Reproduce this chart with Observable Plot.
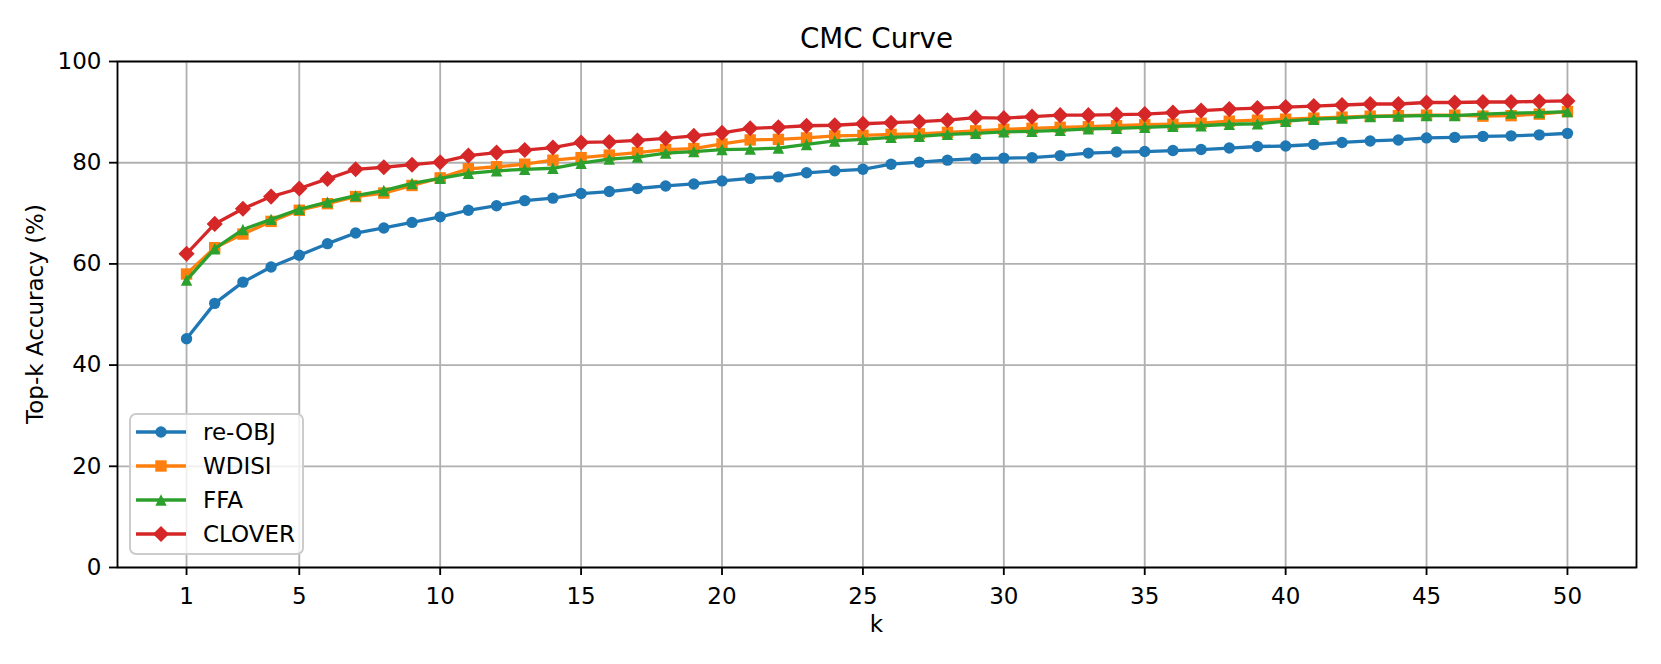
<!DOCTYPE html>
<html>
<head>
<meta charset="utf-8">
<script src="https://cdn.jsdelivr.net/npm/d3@7"></script>
<script src="https://cdn.jsdelivr.net/npm/@observablehq/plot@0.6"></script>
<style>
  html, body { margin: 0; padding: 0; background: #fff; }
  #chart { width: 1661px; height: 664px; }
  svg { font-family: "DejaVu Sans", sans-serif; }
</style>
</head>
<body>
<div id="chart"></div>
<script>
// ---- data ----
const k = [1,2,3,4,5,6,7,8,9,10,11,12,13,14,15,16,17,18,19,20,21,22,23,24,25,
           26,27,28,29,30,31,32,33,34,35,36,37,38,39,40,41,42,43,44,45,46,47,48,49,50];
const reOBJ = [45.2,52.2,56.4,59.4,61.7,64.0,66.1,67.1,68.2,69.3,70.6,71.5,72.5,73.0,73.9,74.3,74.9,75.4,75.8,76.4,
               76.9,77.2,78.0,78.4,78.7,79.7,80.1,80.5,80.8,80.9,81.0,81.4,81.9,82.1,82.2,82.4,82.6,82.9,83.2,83.3,
               83.6,84.0,84.3,84.5,84.9,85.0,85.2,85.3,85.5,85.8];
const WDISI = [58.0,63.2,65.9,68.4,70.6,71.9,73.3,74.0,75.5,77.0,78.8,79.2,79.7,80.5,81.0,81.5,82.0,82.6,82.8,83.7,
               84.5,84.6,84.9,85.3,85.4,85.6,85.7,86.0,86.3,86.6,86.8,87.0,87.1,87.3,87.5,87.6,87.8,88.2,88.4,88.6,
               88.8,89.0,89.2,89.3,89.4,89.4,89.2,89.3,89.6,90.1];
const FFA = [56.8,63.0,66.8,68.8,70.8,72.2,73.5,74.5,75.9,76.9,77.9,78.4,78.7,78.9,79.9,80.7,81.1,81.9,82.2,82.6,
             82.7,82.9,83.6,84.3,84.6,85.0,85.2,85.6,85.8,86.1,86.2,86.4,86.7,86.8,87.0,87.2,87.3,87.6,87.7,88.2,
             88.6,88.8,89.1,89.2,89.3,89.3,89.6,89.8,89.9,90.1];
const CLOVER = [62.0,67.9,70.9,73.3,74.9,76.8,78.7,79.1,79.6,80.1,81.4,82.0,82.5,83.0,84.0,84.1,84.4,84.8,85.3,85.9,
                86.8,87.0,87.3,87.4,87.7,87.9,88.1,88.4,88.9,88.8,89.1,89.4,89.4,89.5,89.6,89.9,90.3,90.6,90.8,91.0,
                91.2,91.4,91.6,91.6,91.9,91.9,92.0,92.0,92.1,92.2];
const seriesNames = ["re-OBJ", "WDISI", "FFA", "CLOVER"];
const seriesValues = [reOBJ, WDISI, FFA, CLOVER];
const seriesColors = ["#1f77b4", "#ff7f0e", "#2ca02c", "#d62728"];
const xTicks = [1,5,10,15,20,25,30,35,40,45,50];
const yTicks = [0,20,40,60,80,100];
const titleText = "CMC Curve";
const xLabel = "k";
const yLabel = "Top-k Accuracy (%)";

// ---- matplotlib-like marker shapes (size -> r = sqrt(size/pi)) ----
const mkCircle = {draw(ctx, size) { const r = Math.sqrt(size / Math.PI); ctx.moveTo(r, 0); ctx.arc(0, 0, r, 0, 2 * Math.PI); }};
const mkSquare = {draw(ctx, size) { const r = Math.sqrt(size / Math.PI); ctx.rect(-r, -r, 2 * r, 2 * r); }};
const mkTriangle = {draw(ctx, size) { const r = Math.sqrt(size / Math.PI); ctx.moveTo(0, -r); ctx.lineTo(r, r); ctx.lineTo(-r, r); ctx.closePath(); }};
const mkDiamond = {draw(ctx, size) { const r = Math.sqrt(size / Math.PI) * Math.SQRT2; ctx.moveTo(0, -r); ctx.lineTo(r, 0); ctx.lineTo(0, r); ctx.lineTo(-r, 0); ctx.closePath(); }};
const seriesSymbols = [mkCircle, mkSquare, mkTriangle, mkDiamond];
const markerR = 5.7;
const lineW = 3.3;
const fs = 23;

const rows = seriesNames.map((name, i) => k.map((kk, j) => ({k: kk, v: seriesValues[i][j], s: name})));

const W = 1661, H = 664;
const mL = 117, mR = 25, mT = 61, mB = 97;

const marks = [
  Plot.gridX(xTicks, {stroke: "#b0b0b0", strokeOpacity: 1, strokeWidth: 1.85}),
  Plot.gridY(yTicks, {stroke: "#b0b0b0", strokeOpacity: 1, strokeWidth: 1.85}),
];
rows.forEach((data, i) => {
  marks.push(Plot.line(data, {x: "k", y: "v", stroke: seriesColors[i], strokeWidth: lineW, strokeLinejoin: "round", strokeLinecap: "square"}));
  marks.push(Plot.dot(data, {x: "k", y: "v", r: markerR, symbol: seriesSymbols[i], fill: seriesColors[i], stroke: "none"}));
});
marks.push(
  Plot.axisX(xTicks, {tickSize: 8, tickPadding: 12, strokeWidth: 1.85, fontSize: fs, label: null}),
  Plot.axisY(yTicks, {tickSize: 8, tickPadding: 8, strokeWidth: 1.85, fontSize: fs, label: null}),
  Plot.frame({stroke: "#000", strokeWidth: 1.85})
);

const plot = Plot.plot({
  width: W, height: H,
  marginLeft: mL, marginRight: mR, marginTop: mT, marginBottom: mB,
  style: {fontFamily: "DejaVu Sans", fontSize: fs + "px", color: "#000", background: "#fff"},
  x: {domain: [-1.45, 52.45]},
  y: {domain: [0, 100]},
  marks
});
document.getElementById("chart").appendChild(plot);

// ---- title, axis labels, legend ----
const svg = d3.select(plot);
const cx = mL + (W - mL - mR) / 2;
const cy = mT + (H - mT - mB) / 2;
svg.append("text").attr("x", cx).attr("y", 48).attr("text-anchor", "middle")
  .attr("font-size", 27.7).attr("fill", "#000").text(titleText);
svg.append("text").attr("x", cx).attr("y", 632).attr("text-anchor", "middle")
  .attr("font-size", fs).attr("fill", "#000").text(xLabel);
svg.append("text").attr("transform", `translate(43,${cy}) rotate(-90)`).attr("text-anchor", "middle")
  .attr("font-size", fs).attr("fill", "#000").text(yLabel);

const lg = svg.append("g");
lg.append("rect").attr("x", 130).attr("y", 414).attr("width", 173).attr("height", 140)
  .attr("rx", 6).attr("fill", "#fff").attr("fill-opacity", 0.8)
  .attr("stroke", "#cccccc").attr("stroke-width", 2);
seriesNames.forEach((name, i) => {
  const yy = 432 + i * 34;
  lg.append("line").attr("x1", 136).attr("x2", 186).attr("y1", yy).attr("y2", yy)
    .attr("stroke", seriesColors[i]).attr("stroke-width", lineW);
  const p = d3.path();
  seriesSymbols[i].draw(p, Math.PI * markerR * markerR);
  lg.append("path").attr("d", p.toString()).attr("transform", `translate(161,${yy})`).attr("fill", seriesColors[i]);
  lg.append("text").attr("x", 203).attr("y", yy).attr("dy", "0.36em").attr("text-anchor", "start")
    .attr("font-size", fs).attr("fill", "#000").text(name);
});
</script>
</body>
</html>
